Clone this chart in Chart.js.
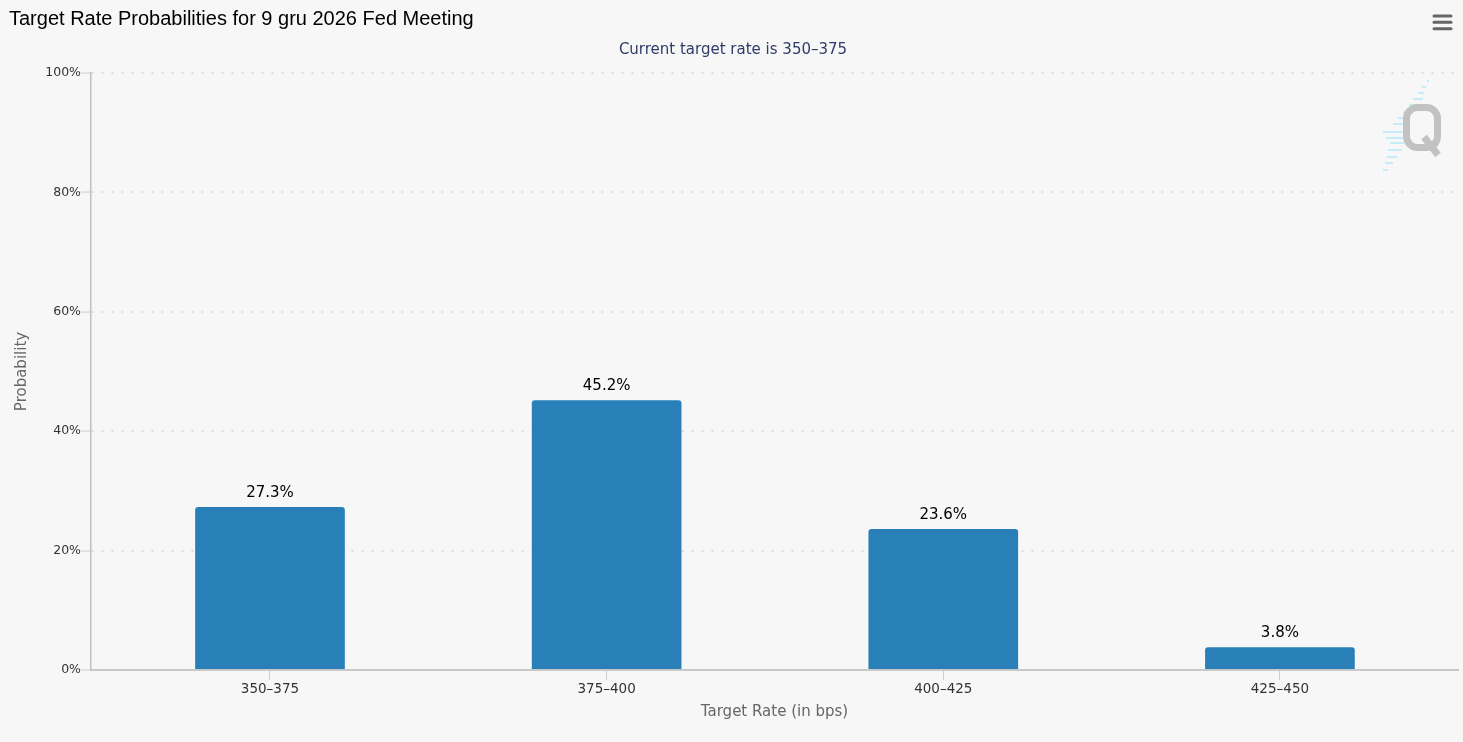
<!DOCTYPE html>
<html>
<head>
<meta charset="utf-8">
<title>Target Rate Probabilities</title>
<script src="https://cdn.jsdelivr.net/npm/chart.js@4/dist/chart.umd.min.js"></script>
<style>
    html, body { margin: 0; padding: 0; background: #f7f7f7; }
    #wrap { position: relative; width: 1463px; height: 742px; }
</style>
</head>
<body>
<div id="wrap"><canvas id="rateChart"></canvas></div>
<script>
    "use strict";

    // values
    var rateLabels = ["350–375", "375–400", "400–425", "425–450"];
    var probabilities = [27.3, 45.2, 23.6, 3.8];
    var yTickValues = [0, 20, 40, 60, 80, 100];
    var chartTitle = "Target Rate Probabilities for 9 gru 2026 Fed Meeting";
    var chartSubtitle = "Current target rate is 350–375";

    var FONT = "'DejaVu Sans', sans-serif";

    // title, subtitle, menu icon and watermark
    var decorPlugin = {
        id: "decor",
        afterDraw: function (chart) {
            var ctx = chart.ctx;
            ctx.save();

            ctx.fillStyle = "#000000";
            ctx.font = "20px 'Liberation Sans', Arial, sans-serif";
            ctx.textAlign = "left";
            ctx.textBaseline = "alphabetic";
            ctx.fillText(chartTitle, 9, 25);

            ctx.fillStyle = "#2f3b68";
            ctx.font = "15px " + FONT;
            ctx.textAlign = "center";
            ctx.fillText(chartSubtitle, 733, 54);

            // menu icon
            ctx.strokeStyle = "#666666";
            ctx.lineWidth = 3;
            ctx.lineCap = "round";
            [16, 22.3, 28.7].forEach(function (y) {
                ctx.beginPath();
                ctx.moveTo(1434, y);
                ctx.lineTo(1451, y);
                ctx.stroke();
            });

            // watermark: blue dashes behind a gray Q
            ctx.strokeStyle = "#c6ebf9";
            ctx.lineWidth = 2;
            ctx.lineCap = "butt";
            var dashes = [
                [81, 1427, 1429], [87, 1422, 1426], [93, 1418, 1424], [99, 1413, 1423],
                [105, 1409, 1420], [112, 1403, 1413], [118, 1398, 1404], [124, 1393, 1404],
                [132, 1383, 1404], [138, 1386, 1404], [143, 1390, 1404], [150, 1388, 1402],
                [157, 1387, 1397], [163, 1385, 1393], [170, 1383, 1388]
            ];
            dashes.forEach(function (d) {
                ctx.beginPath();
                ctx.moveTo(d[1], d[0]);
                ctx.lineTo(d[2], d[0]);
                ctx.stroke();
            });
            ctx.strokeStyle = "#c2c2c2";
            ctx.lineWidth = 7;
            ctx.beginPath();
            ctx.roundRect(1406.5, 107.5, 31, 40, 11);
            ctx.stroke();
            ctx.lineCap = "butt";
            ctx.beginPath();
            ctx.moveTo(1424, 137);
            ctx.lineTo(1438, 155);
            ctx.stroke();

            ctx.restore();
        }
    };

    // value labels above the bars
    var valueLabelPlugin = {
        id: "valueLabels",
        afterDatasetsDraw: function (chart) {
            var ctx = chart.ctx;
            var meta = chart.getDatasetMeta(0);
            ctx.save();
            ctx.fillStyle = "#000000";
            ctx.font = "15px " + FONT;
            ctx.textAlign = "center";
            ctx.textBaseline = "alphabetic";
            meta.data.forEach(function (bar, i) {
                ctx.fillText(probabilities[i].toFixed(1) + "%", bar.x, bar.y - 10);
            });
            ctx.restore();
        }
    };

    var points = probabilities.map(function (v, i) {
        return { x: i, y: v };
    });

    var ctx = document.getElementById("rateChart");
    var rateChart = new Chart(ctx, {
        type: "bar",
        data: {
            datasets: [{
                label: "Probability",
                data: points,
                backgroundColor: "#2980b9",
                borderWidth: 0,
                borderRadius: 3,
                categoryPercentage: 1,
                barPercentage: 0.4446
            }]
        },
        plugins: [decorPlugin, valueLabelPlugin],
        options: {
            responsive: true,
            maintainAspectRatio: false,
            animation: false,
            layout: {
                padding: { top: 73, right: 5, bottom: 0, left: 0 }
            },
            plugins: {
                legend: { display: false },
                tooltip: { enabled: false },
                title: { display: false }
            },
            scales: {
                x: {
                    type: "linear",
                    min: -0.5317,
                    max: 3.529,
                    offset: false,
                    ticks: {
                        stepSize: 1,
                        includeBounds: false,
                        padding: 1,
                        color: "#333333",
                        font: { family: FONT, size: 13.5 },
                        maxRotation: 0,
                        autoSkip: false,
                        callback: function (value) {
                            return rateLabels[value] !== undefined ? rateLabels[value] : "";
                        }
                    },
                    grid: {
                        offset: false,
                        drawOnChartArea: false,
                        drawTicks: true,
                        tickLength: 10,
                        tickColor: "#cccccc",
                        tickWidth: 1
                    },
                    border: { display: true, color: "#c8c8c8", width: 2 },
                    title: {
                        display: true,
                        text: "Target Rate (in bps)",
                        color: "#666666",
                        font: { family: FONT, size: 15 },
                        padding: { top: 0, bottom: 21 }
                    },
                    afterFit: function (scale) {
                        scale.height = 72;
                        scale.paddingLeft = 0;
                        scale.paddingRight = 0;
                    }
                },
                y: {
                    min: 0,
                    max: 100,
                    afterBuildTicks: function (scale) {
                        scale.ticks = yTickValues.map(function (v) {
                            return { value: v };
                        });
                    },
                    ticks: {
                        padding: 0,
                        color: "#333333",
                        font: { family: FONT, size: 12.5 },
                        callback: function (value) {
                            return value + "%";
                        }
                    },
                    grid: {
                        color: "#dcdcdc",
                        lineWidth: 2,
                        drawTicks: true,
                        tickLength: 10,
                        tickColor: "#cccccc",
                        tickWidth: 1,
                        tickBorderDash: []
                    },
                    border: { display: true, color: "#c0c0c0", width: 1.5, dash: [2, 8] },
                    title: {
                        display: true,
                        text: "Probability",
                        color: "#666666",
                        font: { family: FONT, size: 15 },
                        padding: { top: 13, bottom: 0 }
                    },
                    afterFit: function (scale) {
                        scale.width = 91;
                        scale.paddingTop = 0;
                        scale.paddingBottom = 0;
                    }
                }
            }
        }
    });
</script>
</body>
</html>
